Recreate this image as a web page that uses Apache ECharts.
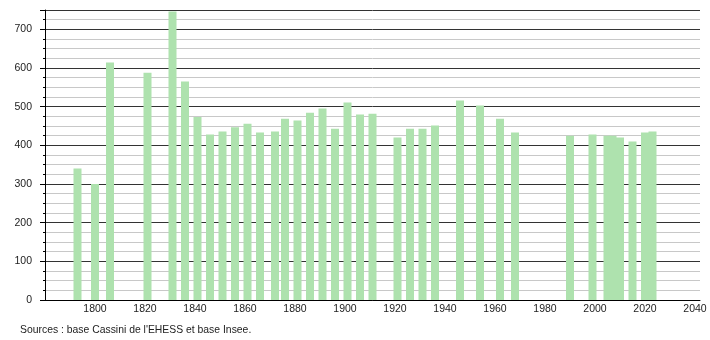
<!DOCTYPE html>
<html><head><meta charset="utf-8">
<script src="https://cdn.jsdelivr.net/npm/echarts@6/dist/echarts.min.js"></script>
<style>html,body{margin:0;padding:0;background:#fff}#c{width:710px;height:340px}</style>
</head><body><div id="c"></div>
<script>
const years = [1793,1800,1806,1821,1831,1836,1841,1846,1851,1856,1861,1866,1872,1876,1881,1886,1891,1896,1901,1906,1911,1921,1926,1931,1936,1946,1954,1962,1968,1990,1999,2005,2007,2010,2015,2020,2023];
const population = [340,300,614,588,746,565,473,428,436,447,456,433,436,469,464,484,495,443,511,480,482,420,443,443,451,516,503,469,433,425,428,425,425,420,410,433,436];
const xTicks = {min:1780, max:2042, step:20};
const yTicks = {min:0, max:750, step:100};
const sourceText = "Sources : base Cassini de l'EHESS et base Insee.";

const chart = echarts.init(document.getElementById('c'), null, {renderer:'canvas'});
chart.setOption({
  animation:false,
  grid:{left:45, right:10, top:10, bottom:40, containLabel:false},
  xAxis:{type:'value', min:xTicks.min, max:xTicks.max, interval:xTicks.step,
    axisLine:{show:true, lineStyle:{color:'#000', width:1}},
    axisTick:{show:false}, splitLine:{show:false},
    axisLabel:{showMinLabel:false, showMaxLabel:false, color:'#222', fontSize:10.5, fontFamily:'Liberation Sans', margin:4,
      formatter:v => String(v)}},
  yAxis:{type:'value', min:yTicks.min, max:yTicks.max, interval:yTicks.step,
    axisLine:{show:true, lineStyle:{color:'#000', width:1}},
    axisTick:{show:true, length:5, lineStyle:{color:'#000'}},
    minorTick:{show:true, splitNumber:4, length:2, lineStyle:{color:'#000'}},
    splitLine:{show:true, lineStyle:{color:'#333', width:1}},
    minorSplitLine:{show:true, lineStyle:{color:'#c8c8c8', width:1}},
    axisLabel:{color:'#222', fontSize:10.5, fontFamily:'Liberation Sans', margin:13,
      formatter:v => (v % 100 === 0 ? String(v) : '')}},
  series:[{type:'bar', barWidth:8, data:years.map((y,i)=>[y,population[i]]),
    itemStyle:{color:'#aee2ae'}, z:3}],
  graphic:[{type:'text', left:20, top:325, style:{text:sourceText, fill:'#222', fontSize:10.4, fontFamily:'Liberation Sans'}}]
});
</script></body></html>
